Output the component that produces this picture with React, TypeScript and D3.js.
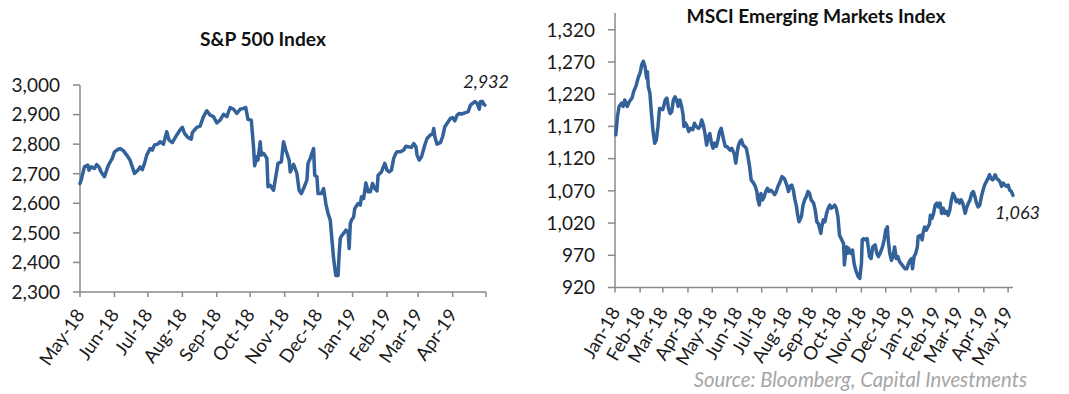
import React from "react";
import * as d3 from "d3";

// ---------- DATA ----------
const spSeries: [string, number][] = [
  ["2018-05-01",2667],["2018-05-02",2678],["2018-05-05",2723],["2018-05-08",2729],["2018-05-09",2712],["2018-05-11",2723],["2018-05-14",2718],["2018-05-16",2731],["2018-05-18",2723],["2018-05-20",2706],["2018-05-23",2690],["2018-05-26",2723],["2018-05-27",2732],["2018-05-30",2752],
  ["2018-06-01",2774],["2018-06-04",2782],["2018-06-06",2785],["2018-06-09",2778],["2018-06-12",2763],["2018-06-15",2746],["2018-06-17",2723],["2018-06-19",2701],["2018-06-22",2712],["2018-06-24",2723],["2018-06-26",2714],["2018-06-28",2735],["2018-06-30",2763],
  ["2018-07-03",2785],["2018-07-05",2780],["2018-07-07",2797],["2018-07-10",2800],["2018-07-12",2808],["2018-07-15",2800],["2018-07-18",2842],["2018-07-20",2814],["2018-07-23",2805],["2018-07-27",2831],["2018-07-30",2848],
  ["2018-08-01",2857],["2018-08-03",2836],["2018-08-06",2823],["2018-08-09",2817],["2018-08-10",2839],["2018-08-14",2857],["2018-08-17",2861],["2018-08-20",2893],["2018-08-23",2913],["2018-08-26",2898],["2018-08-29",2893],
  ["2018-09-01",2872],["2018-09-04",2881],["2018-09-07",2901],["2018-09-10",2893],["2018-09-13",2924],["2018-09-16",2918],["2018-09-19",2904],["2018-09-22",2918],["2018-09-25",2921],["2018-09-27",2924],["2018-09-29",2884],
  ["2018-10-02",2881],["2018-10-04",2791],["2018-10-05",2727],["2018-10-07",2757],["2018-10-08",2746],["2018-10-10",2808],["2018-10-11",2763],["2018-10-13",2769],["2018-10-16",2752],["2018-10-17",2656],["2018-10-19",2661],["2018-10-22",2644],["2018-10-24",2690],["2018-10-26",2735],["2018-10-29",2740],["2018-10-31",2808],
  ["2018-11-02",2780],["2018-11-05",2746],["2018-11-06",2706],["2018-11-09",2732],["2018-11-12",2701],["2018-11-14",2644],["2018-11-16",2633],["2018-11-18",2650],["2018-11-21",2678],["2018-11-22",2735],["2018-11-24",2752],["2018-11-27",2785],["2018-11-28",2695],["2018-11-30",2690],
  ["2018-12-01",2633],["2018-12-04",2633],["2018-12-06",2650],["2018-12-08",2599],["2018-12-10",2565],["2018-12-12",2543],["2018-12-13",2498],["2018-12-15",2413],["2018-12-17",2356],["2018-12-19",2356],["2018-12-20",2430],["2018-12-21",2481],["2018-12-22",2489],["2018-12-24",2498],["2018-12-26",2509],["2018-12-28",2503],["2018-12-29",2447],["2018-12-30",2531],["2018-12-31",2543],
  ["2019-01-02",2554],["2019-01-03",2582],["2019-01-06",2599],["2019-01-08",2594],["2019-01-09",2622],["2019-01-11",2616],["2019-01-13",2669],["2019-01-15",2639],["2019-01-17",2639],["2019-01-19",2667],["2019-01-21",2650],["2019-01-23",2642],["2019-01-24",2695],["2019-01-27",2706],["2019-01-30",2735],
  ["2019-02-01",2712],["2019-02-03",2706],["2019-02-05",2712],["2019-02-07",2752],["2019-02-09",2769],["2019-02-10",2774],["2019-02-13",2774],["2019-02-16",2780],["2019-02-18",2793],["2019-02-20",2791],["2019-02-23",2789],["2019-02-25",2802],["2019-02-27",2791],["2019-02-28",2763],
  ["2019-03-02",2746],["2019-03-04",2757],["2019-03-07",2797],["2019-03-09",2819],["2019-03-12",2831],["2019-03-14",2834],["2019-03-15",2853],["2019-03-16",2825],["2019-03-18",2800],["2019-03-21",2805],["2019-03-23",2825],["2019-03-25",2859],["2019-03-28",2876],["2019-03-30",2887],
  ["2019-04-01",2890],["2019-04-03",2879],["2019-04-05",2898],["2019-04-07",2904],["2019-04-09",2902],["2019-04-12",2906],["2019-04-15",2910],["2019-04-17",2932],["2019-04-19",2938],["2019-04-21",2944],["2019-04-23",2938],["2019-04-25",2918],["2019-04-26",2944],["2019-04-28",2944],["2019-04-29",2935],["2019-04-30",2932]
];

const emSeries: [string, number][] = [
  ["2018-01-02",1157],["2018-01-04",1185],["2018-01-06",1201],["2018-01-09",1206],["2018-01-11",1201],["2018-01-13",1211],["2018-01-16",1201],["2018-01-19",1209],["2018-01-22",1214],["2018-01-24",1224],["2018-01-27",1233],["2018-01-30",1247],
  ["2018-02-01",1253],["2018-02-03",1266],["2018-02-05",1271],["2018-02-07",1263],["2018-02-09",1245],["2018-02-10",1255],["2018-02-11",1232],["2018-02-13",1222],["2018-02-15",1190],["2018-02-17",1162],["2018-02-19",1144],["2018-02-21",1149],["2018-02-23",1170],["2018-02-25",1198],
  ["2018-03-01",1196],["2018-03-04",1211],["2018-03-06",1214],["2018-03-08",1198],["2018-03-10",1190],["2018-03-12",1193],["2018-03-14",1211],["2018-03-16",1216],["2018-03-18",1211],["2018-03-20",1201],["2018-03-22",1211],["2018-03-24",1202],["2018-03-26",1188],["2018-03-27",1170],["2018-03-29",1175],["2018-03-31",1170],
  ["2018-04-02",1162],["2018-04-04",1167],["2018-04-07",1165],["2018-04-09",1175],["2018-04-11",1170],["2018-04-14",1167],["2018-04-16",1170],["2018-04-18",1180],["2018-04-20",1172],["2018-04-22",1159],["2018-04-24",1141],["2018-04-26",1154],["2018-04-28",1159],["2018-04-30",1144],
  ["2018-05-02",1136],["2018-05-04",1144],["2018-05-06",1139],["2018-05-08",1149],["2018-05-10",1162],["2018-05-12",1167],["2018-05-15",1149],["2018-05-17",1139],["2018-05-19",1139],["2018-05-21",1136],["2018-05-23",1133],["2018-05-25",1136],["2018-05-28",1128],["2018-05-30",1113],
  ["2018-06-01",1131],["2018-06-02",1139],["2018-06-04",1146],["2018-06-06",1149],["2018-06-08",1141],["2018-06-10",1139],["2018-06-12",1136],["2018-06-14",1123],["2018-06-16",1108],["2018-06-18",1087],["2018-06-21",1082],["2018-06-23",1077],["2018-06-25",1069],["2018-06-26",1058],["2018-06-28",1048],["2018-06-30",1066],
  ["2018-07-02",1056],["2018-07-04",1061],["2018-07-06",1069],["2018-07-08",1074],["2018-07-10",1069],["2018-07-12",1071],["2018-07-14",1069],["2018-07-17",1064],["2018-07-19",1069],["2018-07-21",1077],["2018-07-23",1082],["2018-07-26",1092],["2018-07-29",1089],
  ["2018-08-01",1079],["2018-08-03",1069],["2018-08-05",1077],["2018-08-07",1079],["2018-08-09",1071],["2018-08-11",1056],["2018-08-13",1045],["2018-08-14",1035],["2018-08-16",1022],["2018-08-19",1030],["2018-08-21",1048],["2018-08-23",1056],["2018-08-25",1061],["2018-08-27",1069],["2018-08-29",1066],["2018-08-31",1056],
  ["2018-09-03",1051],["2018-09-05",1040],["2018-09-07",1022],["2018-09-09",1019],["2018-09-12",1004],["2018-09-13",1014],["2018-09-15",1025],["2018-09-17",1022],["2018-09-19",1035],["2018-09-21",1043],["2018-09-23",1048],["2018-09-25",1043],["2018-09-27",1045],["2018-09-29",1048],
  ["2018-10-01",1043],["2018-10-03",1030],["2018-10-05",1001],["2018-10-07",996],["2018-10-10",988],["2018-10-11",955],["2018-10-12",968],["2018-10-14",983],["2018-10-15",973],["2018-10-16",981],["2018-10-19",973],["2018-10-21",978],["2018-10-23",957],["2018-10-25",947],["2018-10-28",937],["2018-10-30",934],
  ["2018-11-01",957],["2018-11-02",994],["2018-11-04",996],["2018-11-06",994],["2018-11-08",996],["2018-11-10",978],["2018-11-11",968],["2018-11-13",965],["2018-11-15",983],["2018-11-18",986],["2018-11-20",973],["2018-11-22",968],["2018-11-24",973],["2018-11-27",983],["2018-11-29",994],
  ["2018-12-01",1009],["2018-12-03",1014],["2018-12-04",994],["2018-12-06",973],["2018-12-08",962],["2018-12-10",968],["2018-12-12",983],["2018-12-14",965],["2018-12-16",968],["2018-12-18",960],["2018-12-20",957],["2018-12-23",952],["2018-12-25",949],["2018-12-27",949],["2018-12-29",957],["2018-12-31",962],
  ["2019-01-02",965],["2019-01-03",949],["2019-01-05",968],["2019-01-07",973],["2019-01-09",983],["2019-01-10",999],["2019-01-13",1001],["2019-01-15",994],["2019-01-16",1004],["2019-01-18",1014],["2019-01-20",1009],["2019-01-22",1014],["2019-01-24",1019],["2019-01-25",1032],["2019-01-27",1027],["2019-01-29",1035],["2019-01-31",1048],
  ["2019-02-02",1051],["2019-02-04",1045],["2019-02-06",1051],["2019-02-08",1035],["2019-02-10",1043],["2019-02-12",1035],["2019-02-14",1038],["2019-02-16",1032],["2019-02-18",1040],["2019-02-20",1056],["2019-02-22",1066],["2019-02-24",1061],["2019-02-26",1053],["2019-02-28",1056],
  ["2019-03-02",1051],["2019-03-04",1056],["2019-03-06",1051],["2019-03-09",1035],["2019-03-11",1045],["2019-03-13",1051],["2019-03-15",1056],["2019-03-17",1066],["2019-03-19",1069],["2019-03-21",1061],["2019-03-23",1051],["2019-03-25",1045],["2019-03-27",1048],["2019-03-29",1061],["2019-03-31",1071],
  ["2019-04-02",1079],["2019-04-04",1084],["2019-04-06",1089],["2019-04-08",1095],["2019-04-10",1089],["2019-04-12",1087],["2019-04-15",1095],["2019-04-17",1089],["2019-04-19",1087],["2019-04-21",1084],["2019-04-23",1077],["2019-04-25",1082],["2019-04-27",1079],["2019-04-29",1077],
  ["2019-05-01",1079],["2019-05-03",1071],["2019-05-05",1069],["2019-05-07",1063]
];

const spYTicks = [2300, 2400, 2500, 2600, 2700, 2800, 2900, 3000];
const emYTicks = [920, 970, 1020, 1070, 1120, 1170, 1220, 1270, 1320];
const spXDomain: [string, string] = ["2018-05-01", "2019-05-01"];
const emXDomain: [string, string] = ["2018-01-01", "2019-05-07"];
const spLabelEnd = "2019-05-01"; // last tick carries no label
const emLabelEnd = "2019-05-02";
const spTitle = "S&P 500 Index";
const emTitle = "MSCI Emerging Markets Index";
const spLast = "2,932";
const emLast = "1,063";
const sourceNote = "Source: Bloomberg, Capital Investments";

// ---------- STYLE ----------
const FONT = "Lato, 'Open Sans', sans-serif";
const LINE = "#33629a";
const AXIS = "#8a8a8a";
const parse = d3.timeParse("%Y-%m-%d");
const fmtMonth = d3.timeFormat("%b-%y");
const fmtNum = d3.format(",");

type PanelProps = {
  series: [string, number][];
  xDomain: [string, string];
  xRange: [number, number];
  yDomain: [number, number];
  yRange: [number, number];
  yTicks: number[];
  axisTop: number;
  labelEnd: string;
  angle: number;
  gap: number;
};

function Panel(p: PanelProps) {
  const x = d3.scaleTime().domain([parse(p.xDomain[0])!, parse(p.xDomain[1])!]).range(p.xRange);
  const y = d3.scaleLinear().domain(p.yDomain).range(p.yRange);
  const data = p.series.map(([d, v]) => ({ d: parse(d)!, v }));
  const line = d3.line<{ d: Date; v: number }>().x((e) => x(e.d)).y((e) => y(e.v));
  const x0 = p.xRange[0];
  const x1 = p.xRange[1];
  const yb = p.yRange[0];
  const months = d3.timeMonth.range(parse(p.xDomain[0])!, d3.timeDay.offset(parse(p.xDomain[1])!, 1));
  const labelEnd = parse(p.labelEnd)!;
  const fs = 18.5;
  const half = fs * 0.36;
  const rad = (p.angle * Math.PI) / 180;
  const ex = half * Math.sin(rad);
  const ey = p.gap + half * Math.cos(rad);
  return (
    <g>
      <line x1={x0} x2={x0} y1={p.axisTop} y2={yb} stroke={AXIS} strokeWidth={1.5} />
      {p.yTicks.map((t) => (
        <g key={t}>
          <line x1={x0 - 7} x2={x0} y1={y(t)} y2={y(t)} stroke={AXIS} strokeWidth={1.5} />
          <text x={x0 - 20} y={y(t)} dy="0.36em" textAnchor="end" fontSize={19} fill="#1a1a1a" fontFamily={FONT}>
            {fmtNum(t)}
          </text>
        </g>
      ))}
      <line x1={x0} x2={x1} y1={yb} y2={yb} stroke={AXIS} strokeWidth={1.5} />
      {months.map((m) => (
        <g key={m.toISOString()}>
          <line x1={x(m)} x2={x(m)} y1={yb} y2={yb + 5} stroke={AXIS} strokeWidth={1.5} />
          {m < labelEnd && (
            <text
              transform={`translate(${x(m) + ex},${yb + ey}) rotate(${-p.angle})`}
              textAnchor="end"
              fontSize={fs}
              fill="#1a1a1a"
              fontFamily={FONT}
            >
              {fmtMonth(m)}
            </text>
          )}
        </g>
      ))}
      <path d={line(data)!} fill="none" stroke={LINE} strokeWidth={3.5} strokeLinejoin="round" strokeLinecap="round" />
    </g>
  );
}

export default function App() {
  return (
    <svg width={1069} height={394} style={{ position: "absolute", left: 0, top: 0, background: "#fff" }}>
      <rect width={1069} height={394} fill="#fff" />
      <text x={263} y={46} textAnchor="middle" fontSize={19.2} fontWeight={700} fontFamily={FONT} fill="#111">{spTitle}</text>
      <text x={816} y={23} textAnchor="middle" fontSize={19.2} fontWeight={700} fontFamily={FONT} fill="#111">{emTitle}</text>
      <Panel
        series={spSeries}
        xDomain={spXDomain}
        xRange={[80, 486]}
        yDomain={[2300, 3000]}
        yRange={[292, 85]}
        yTicks={spYTicks}
        axisTop={85}
        labelEnd={spLabelEnd}
        angle={55}
        gap={19}
      />
      <Panel
        series={emSeries}
        xDomain={emXDomain}
        xRange={[615, 1013]}
        yDomain={[920, 1346]}
        yRange={[287.5, 13]}
        yTicks={emYTicks}
        axisTop={13}
        labelEnd={emLabelEnd}
        angle={60}
        gap={21}
      />
      <text x={509} y={88} textAnchor="end" fontSize={18} fontStyle="italic" fontFamily={FONT} fill="#1a1a1a">{spLast}</text>
      <text x={1040} y={219} textAnchor="end" fontSize={18} fontStyle="italic" fontFamily={FONT} fill="#1a1a1a">{emLast}</text>
      <text x={1027} y={387} textAnchor="end" fontSize={20.3} fontStyle="italic" fontFamily={FONT} fill="#a6a6a6">{sourceNote}</text>
    </svg>
  );
}
